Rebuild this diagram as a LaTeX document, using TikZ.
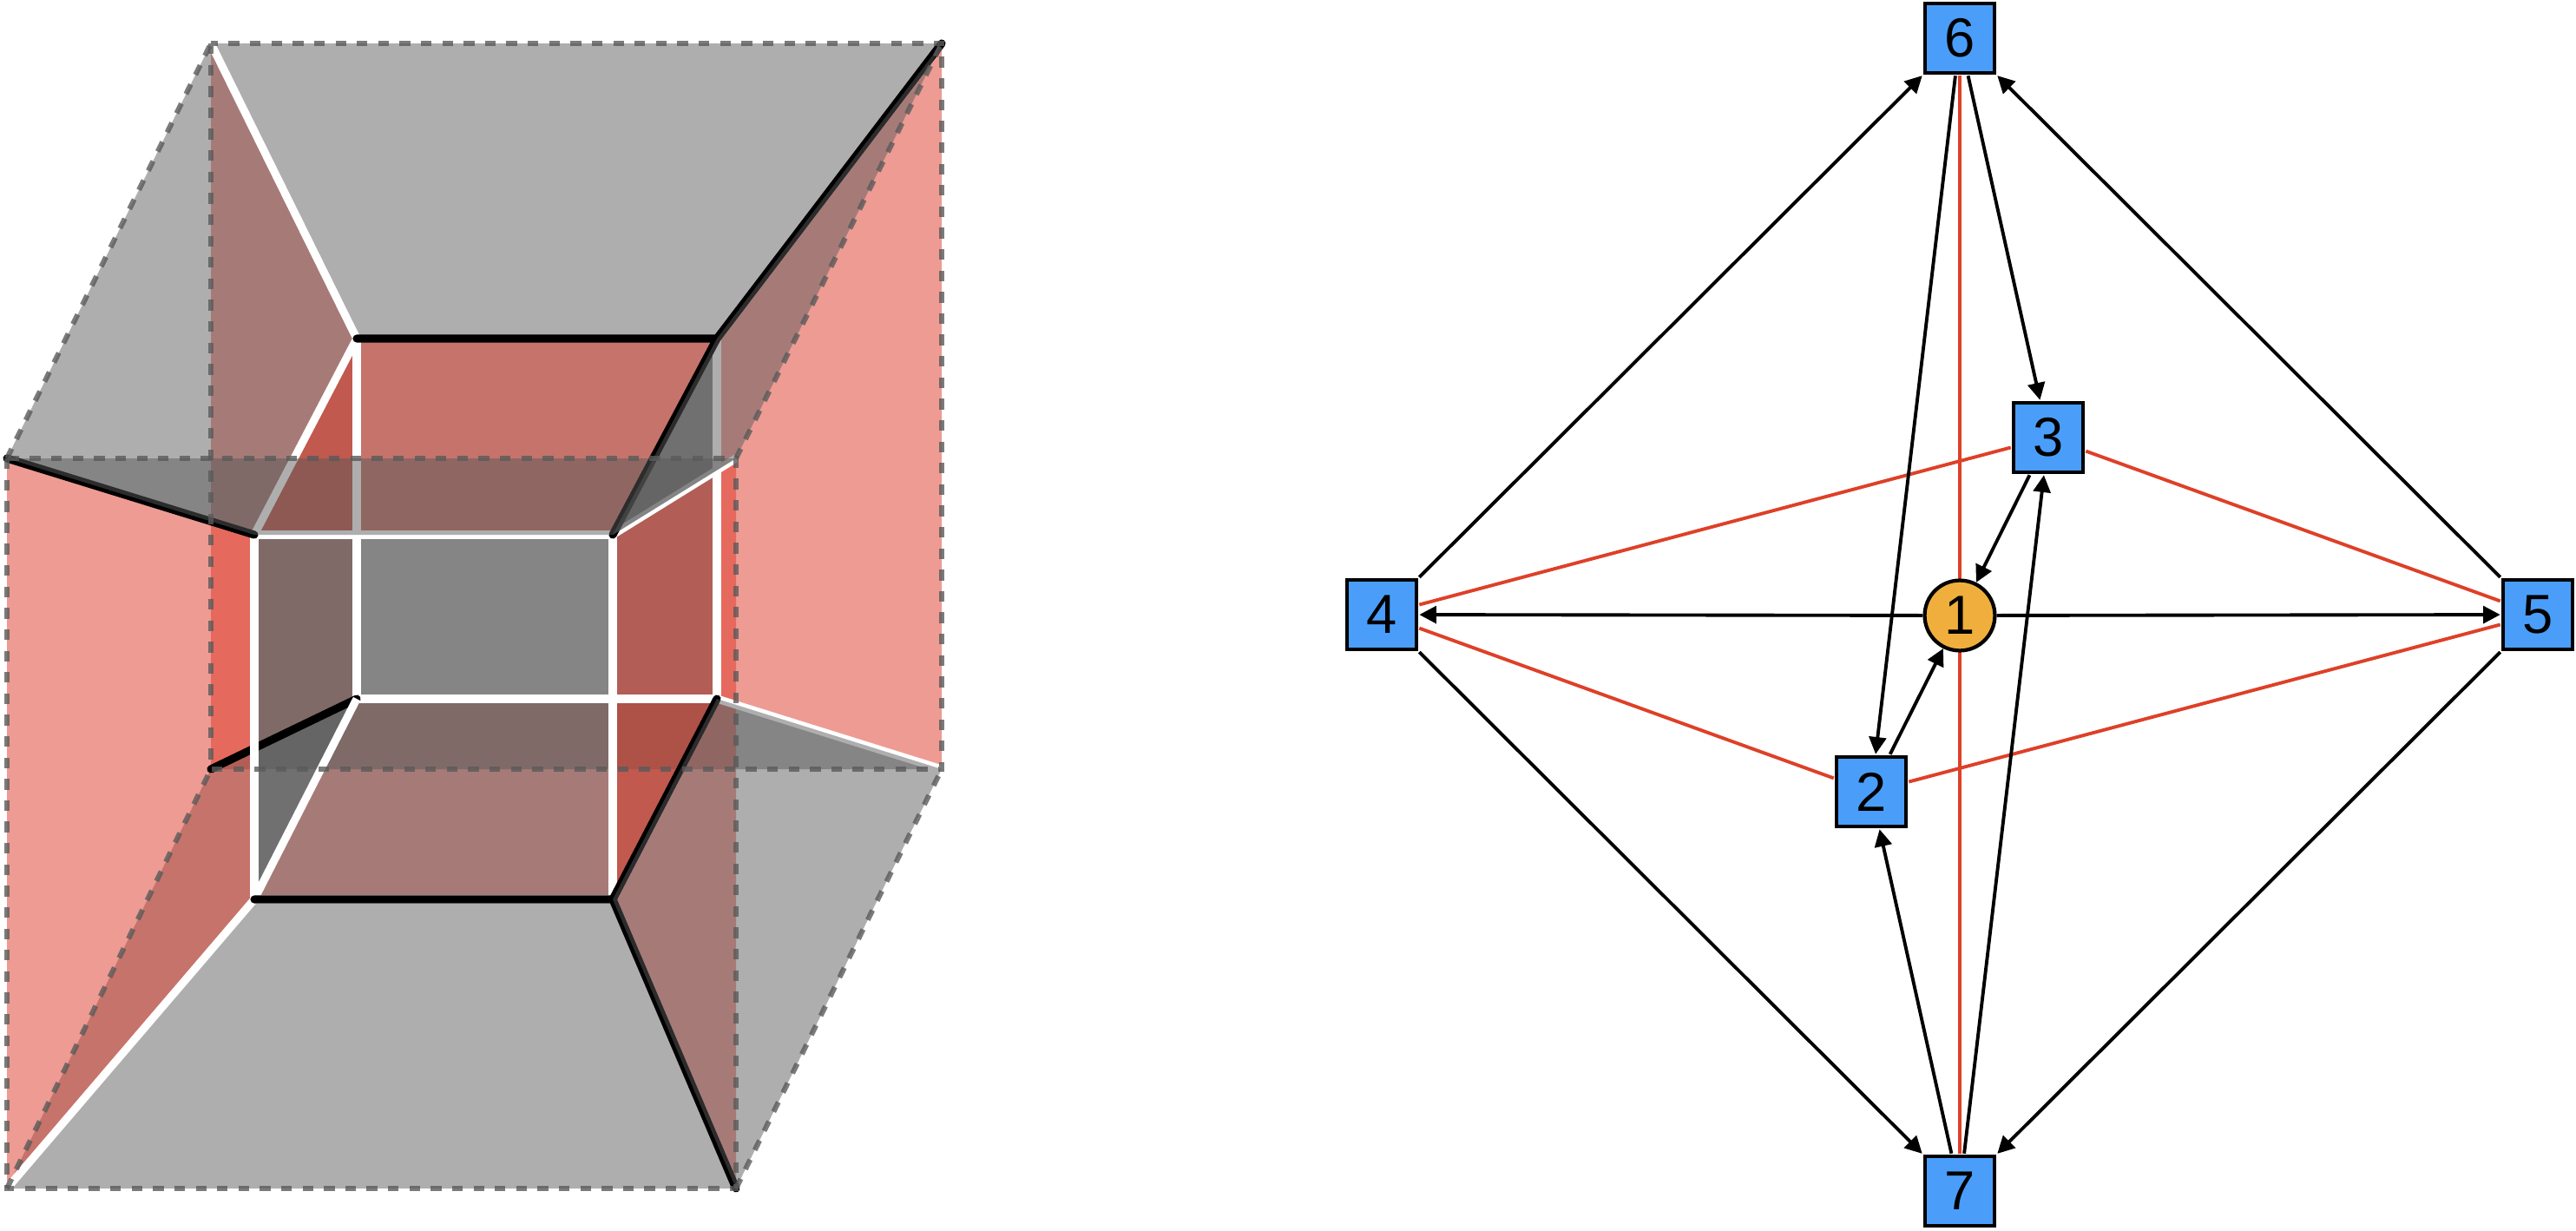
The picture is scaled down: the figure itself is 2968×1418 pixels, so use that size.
\documentclass[tikz,border=0pt]{standalone}
\usepackage{fontspec}
\setmainfont{Liberation Sans}
\usetikzlibrary{arrows.meta}
\usetikzlibrary{backgrounds}
\definecolor{facered}{RGB}{222,56,40}
\definecolor{facegray}{RGB}{90,90,90}
\definecolor{nodeblue}{RGB}{74,158,250}
\definecolor{nodeorange}{RGB}{240,175,60}
\definecolor{edgered}{RGB}{222,64,40}
\tikzset{
    redface/.style={fill=facered,fill opacity=0.5},
    grayface/.style={fill=facegray,fill opacity=0.49},
    blackedge/.style={black,line width=2.6pt,line cap=round},
    whiteedge/.style={white,line width=2.6pt},
    dashededge/.style={facegray,opacity=0.8,line width=1.7pt,dash pattern=on 3.5pt off 3.5pt},
    boxnode/.style={draw,line width=1.2pt,fill=nodeblue,minimum size=22.8pt,inner sep=0pt,outer sep=0.9pt,font=\fontsize{18}{18}\selectfont},
    hubnode/.style={draw,circle,line width=1.2pt,fill=nodeorange,minimum size=23pt,inner sep=0pt,outer sep=0.6pt,font=\fontsize{18}{18}\selectfont},
    arc/.style={line width=1.1pt,-{Stealth[inset=0pt,length=5.6pt,width=5.6pt]}},
    redarc/.style={edgered,line width=1.1pt}
}
\begin{document}
\begin{tikzpicture}[x=0.01cm,y=-0.01cm]
\useasboundingbox (0,0) rectangle (2968,1418);

% Outer squares
\coordinate (ftl) at (8,528);
\coordinate (ftr) at (848,528);
\coordinate (fbr) at (848,1369);
\coordinate (fbl) at (8,1369);
\coordinate (btl) at (243,50);
\coordinate (btr) at (1085,50);
\coordinate (bbr) at (1085,886);
\coordinate (bbl) at (243,886);

% Inner squares
\coordinate (itl) at (411,390);
\coordinate (itr) at (826,390);
\coordinate (ibr) at (826,805);
\coordinate (ibl) at (411,805);
\coordinate (ntl) at (293,616);
\coordinate (ntr) at (706,616);
\coordinate (nbr) at (706,1036);
\coordinate (nbl) at (293,1036);

% Faces at the back
\fill[redface] (btl) -- (bbl) -- (ibl) -- (itl) -- cycle;
\fill[redface] (btr) -- (bbr) -- (ibr) -- (itr) -- cycle;
\fill[redface] (ibl) -- (ibr) -- (nbr) -- (nbl) -- cycle;

% Gray faces
\fill[grayface] (btl) -- (btr) -- (itr) -- (itl) -- cycle;
\fill[grayface] (ftl) -- (btl) -- (itl) -- (ntl) -- cycle;
\fill[grayface] (fbl) -- (fbr) -- (nbr) -- (nbl) -- cycle;
\fill[grayface] (fbl) -- (bbl) -- (ibl) -- (nbl) -- cycle;
\fill[grayface] (itl) rectangle (ibr);
\fill[grayface] (ntl) rectangle (nbr);
\fill[grayface] (itl) -- (ntl) -- (nbl) -- (ibl) -- cycle;
\fill[grayface] (itr) -- (ntr) -- (nbr) -- (ibr) -- cycle;
\fill[grayface] (bbl) -- (bbr) -- (ibr) -- (ibl) -- cycle;

% Red faces in front
\fill[redface] (itl) -- (itr) -- (ntr) -- (ntl) -- cycle;
\fill[redface] (ftr) -- (fbr) -- (nbr) -- (ntr) -- cycle;
\fill[redface] (ftl) -- (fbl) -- (nbl) -- (ntl) -- cycle;

% White and black edges
\draw[whiteedge] (btl) -- (itl) -- (ntl);
\draw[whiteedge] (itl) -- (ibl) -- (ibr) -- (itr);
\draw[whiteedge] (ibr) -- (bbr);
\draw[blackedge] (ibl) -- (bbl);
\draw[whiteedge] (ntl) rectangle (nbr);
\draw[whiteedge] (ntr) -- (ftr);
\draw[whiteedge] (nbl) -- (ibl);
\draw[whiteedge] (nbl) -- (fbl);
\draw[blackedge] (itl) -- (itr) -- (btr);
\draw[blackedge] (itr) -- (ntr);
\draw[blackedge] (nbl) -- (nbr) -- (fbr);
\draw[blackedge] (nbr) -- (ibr);
\draw[blackedge] (ftl) -- (ntl);

% Gray faces over the edges
\fill[grayface] (ftl) -- (ftr) -- (ntr) -- (ntl) -- cycle;
\fill[grayface] (btr) -- (ftr) -- (ntr) -- (itr) -- cycle;
\fill[grayface] (fbr) -- (bbr) -- (ibr) -- (nbr) -- cycle;

% Dashed outlines
\draw[dashededge] (ftl) rectangle (fbr);
\draw[dashededge] (btl) rectangle (bbr);
\draw[dashededge] (ftl) -- (btl);
\draw[dashededge] (ftr) -- (btr);
\draw[dashededge] (fbl) -- (bbl);
\draw[dashededge] (fbr) -- (bbr);

% Graph nodes
\node[hubnode] (n1) at (2258,709) {1};
\node[boxnode] (n2) at (2156,912) {2};
\node[boxnode] (n3) at (2360,504) {3};
\node[boxnode] (n4) at (1592,708) {4};
\node[boxnode] (n5) at (2924,708) {5};
\node[boxnode] (n6) at (2258,44) {6};
\node[boxnode] (n7) at (2258,1372) {7};

% Red edges
\begin{scope}[on background layer]
\draw[redarc] (n6) -- (n7);
\end{scope}
\draw[redarc] (n4) -- (n3);
\draw[redarc] (n3) -- (n5);
\draw[redarc] (n4) -- (n2);
\draw[redarc] (n2) -- (n5);

% Arrows
\draw[arc] (n4) -- (n6);
\draw[arc] (n5) -- (n6);
\draw[arc] (n6) -- (n3);
\draw[arc] (n6) -- (n2);
\draw[arc] (n3) -- (n1);
\draw[arc] (n2) -- (n1);
\draw[arc] (n1) -- (n4);
\draw[arc] (n1) -- (n5);
\draw[arc] (n7) -- (n2);
\draw[arc] (n7) -- (n3);
\draw[arc] (n4) -- (n7);
\draw[arc] (n5) -- (n7);

\end{tikzpicture}
\end{document}
